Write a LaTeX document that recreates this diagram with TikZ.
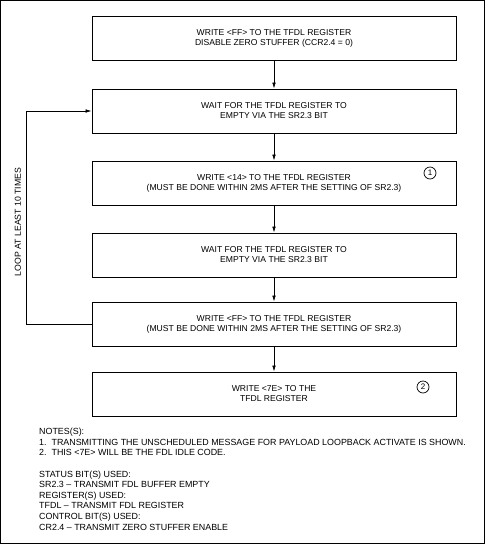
\documentclass[tikz,border=0pt]{standalone}
\usepackage{fontspec}
\setmainfont{Liberation Sans}
\usetikzlibrary{positioning,arrows.meta,calc}

\begin{document}
\begin{tikzpicture}[
  x=1pt, y=-1pt,
  box/.style={rectangle, draw, line width=0.8pt, align=center, font=\fontsize{8.6}{10}\selectfont, minimum width=364pt, minimum height=44pt, inner sep=2pt},
  arrow/.style={-{Latex[length=6pt,width=3.6pt]}, line width=0.7pt},
  num/.style={circle, draw, line width=0.7pt, inner sep=0pt, minimum size=12pt, font=\fontsize{8}{8}\selectfont},
  note/.style={align=left, anchor=north west, inner sep=0pt, font=\fontsize{8.9}{10.6}\selectfont},
]
\useasboundingbox (0,0) rectangle (485,544);
\draw[line width=1pt] (0.5,0.5) rectangle (484.5,543.5);

% === FDL TRANSMIT SEQUENCE ===
\node[box] (wrff) at (274, 38) {WRITE <FF> TO THE TFDL REGISTER\\DISABLE ZERO STUFFER (CCR2.4 = 0)};
\node[box] (wait) at (274, 111) {WAIT FOR THE TFDL REGISTER TO\\EMPTY VIA THE SR2.3 BIT};
\node[box] (wr14) at (274, 183) {WRITE <14> TO THE TFDL REGISTER\\(MUST BE DONE WITHIN 2MS AFTER THE SETTING OF SR2.3)};
\node[box] (waitb) at (274, 255) {WAIT FOR THE TFDL REGISTER TO\\EMPTY VIA THE SR2.3 BIT};
\node[box] (wrffb) at (274, 324) {WRITE <FF> TO THE TFDL REGISTER\\(MUST BE DONE WITHIN 2MS AFTER THE SETTING OF SR2.3)};
\node[box] (wr7e) at (274, 394) {WRITE <7E> TO THE\\TFDL REGISTER};

\node[num] (n1) at (430, 173) {1};
\node[num] (n2) at (423, 387) {2};

\draw[arrow] (wrff) -- (wait);
\draw[arrow] (wait) -- (wr14);
\draw[arrow] (wr14) -- (waitb);
\draw[arrow] (waitb) -- (wrffb);
\draw[arrow] (wrffb) -- (wr7e);

% loop back
\coordinate (lp) at (26, 324);
\draw[arrow] (wrffb.west) -- (lp) |- (wait.west);
\node[rotate=90, font=\fontsize{8.7}{9}\selectfont] (lplab) at (18, 222) {LOOP AT LEAST 10 TIMES};

% === NOTES ===
\node[note] (notes) at (39, 428) {NOTES(S):\\
1.\ \ TRANSMITTING THE UNSCHEDULED MESSAGE FOR PAYLOAD LOOPBACK ACTIVATE IS SHOWN.\\
2.\ \ THIS <7E> WILL BE THE FDL IDLE CODE.\\[10.6pt]
STATUS BIT(S) USED:\\
SR2.3 -- TRANSMIT FDL BUFFER EMPTY\\
REGISTER(S) USED:\\
TFDL -- TRANSMIT FDL REGISTER\\
CONTROL BIT(S) USED:\\
CR2.4 -- TRANSMIT ZERO STUFFER ENABLE};
\end{tikzpicture}
\end{document}
